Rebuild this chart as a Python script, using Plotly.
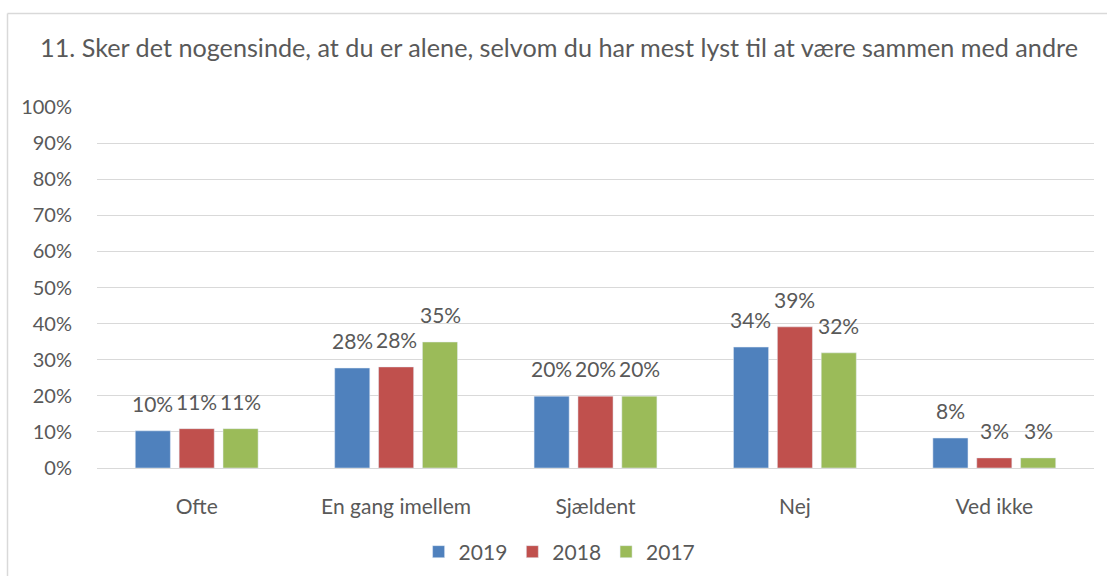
import plotly.graph_objects as go

categories = ["Ofte", "En gang imellem", "Sjældent", "Nej", "Ved ikke"]
years = ["2019", "2018", "2017"]
v2019 = [0.103, 0.277, 0.199, 0.335, 0.083]
v2018 = [0.109, 0.280, 0.199, 0.391, 0.028]
v2017 = [0.109, 0.349, 0.199, 0.319, 0.028]
colors = ["#4f81bd", "#c0504d", "#9bbb59"]
title = "11. Sker det nogensinde, at du er alene, selvom du har mest lyst til at være sammen med andre"

FONT = "Lato, 'Open Sans', sans-serif"
TXT = "#595959"

L, R, T, B = 97, 13, 107, 108
W, H = 1107, 576
pw, ph = W - L - R, H - T - B
slot_px = 44  # pixel distance between bar centres within a group

fig = go.Figure()
series = [v2019, v2018, v2017]
for i, (name, vals, col) in enumerate(zip(years, series, colors)):
    fig.add_trace(go.Bar(x=categories, y=vals, name=name, marker_color=col))
    for cat, v in zip(categories, vals):
        fig.add_annotation(x=cat, y=v, xref="x", yref="y", text=f"{round(v*100)}%",
                           showarrow=False, xanchor="center", yanchor="bottom",
                           xshift=(i - 1) * slot_px, yshift=13,
                           font=dict(size=21, color=TXT, family=FONT))

fig.update_layout(
    width=W, height=H,
    margin=dict(l=L, r=R, t=T, b=B, autoexpand=False),
    paper_bgcolor="white", plot_bgcolor="white",
    barmode="group", bargap=0.34, bargroupgap=0.2,
    font=dict(family=FONT, color=TXT, size=21),
    title=dict(text=title, x=0.505, xanchor="center", y=1 - 48 / H, yanchor="middle",
               font=dict(size=25.2, color=TXT, family=FONT)),
    legend=dict(orientation="h", x=0.464, xanchor="center", yref="container",
                y=1 - 552 / H, yanchor="middle",
                font=dict(size=21, color=TXT), itemwidth=30, traceorder="normal"),
    yaxis=dict(range=[0, 1], dtick=0.1, tickformat=".0%", gridcolor="#d9d9d9", gridwidth=1.3,
               zeroline=False, showline=False, ticks="", ticklabelstandoff=24, automargin=False,
               tickfont=dict(size=20, color=TXT)),
    xaxis=dict(showline=True, linecolor="#d9d9d9", linewidth=1.3, ticks="", automargin=False,
               ticklabelstandoff=20, tickfont=dict(size=21, color=TXT)),
    showlegend=True,
)

# chart border (left and top edges visible)
x0 = (7.5 - L) / pw
y1 = (H - B - 13.5) / ph
fig.add_shape(type="line", xref="paper", yref="paper", x0=x0, x1=(W + 5 - L) / pw, y0=y1, y1=y1,
              line=dict(color="#d9d9d9", width=1.5))
fig.add_shape(type="line", xref="paper", yref="paper", x0=x0, x1=x0, y0=y1, y1=-(B + 5) / ph,
              line=dict(color="#d9d9d9", width=1.5))

fig.write_html("out.html", config={"displayModeBar": False},
               post_script="document.body.style.margin='0';document.body.style.overflow='hidden';")
